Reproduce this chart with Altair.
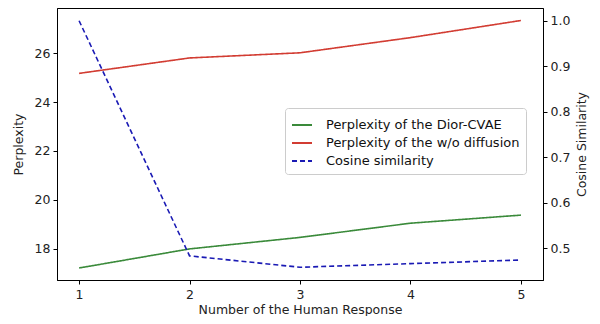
import altair as alt
import pandas as pd

x_vals = [1, 2, 3, 4, 5]
ppl_dior = [17.22, 18.0, 18.47, 19.05, 19.38]
ppl_wo = [25.17, 25.8, 26.01, 26.63, 27.33]
cosine = [1.0, 0.483, 0.458, 0.466, 0.474]

s1 = "Perplexity of the Dior-CVAE"
s2 = "Perplexity of the w/o diffusion"
s3 = "Cosine similarity"
series = [s1, s2, s3]
colors = ["#3a8a3a", "#d23c32", "#1a1ab4"]
dashes = [[1, 0], [1, 0], [5, 3]]

ppl_df = pd.DataFrame(
    {"x": x_vals * 2, "v": ppl_dior + ppl_wo, "s": [s1] * 5 + [s2] * 5}
)
cos_df = pd.DataFrame({"x": x_vals, "v": cosine, "s": [s3] * 5})

font = "DejaVu Sans"

color_enc = alt.Color(
    "s:N",
    scale=alt.Scale(domain=series, range=colors),
    sort=series,
    legend=alt.Legend(
        title=None,
        orient="none",
        legendX=228,
        legendY=100,
        symbolType="stroke",
        symbolStrokeWidth=2,
        symbolSize=400,
        labelFontSize=13,
        labelFont=font,
        labelColor="#111",
        labelLimit=400,
        strokeColor="#cccccc",
        fillColor="white",
        cornerRadius=3,
        padding=6,
        rowPadding=0,
        labelOffset=13,
    ),
)
dash_enc = alt.StrokeDash(
    "s:N", scale=alt.Scale(domain=series, range=dashes), sort=series, legend=None
)

x_enc = alt.X(
    "x:Q",
    scale=alt.Scale(domain=[0.8, 5.2], nice=False, zero=False),
    axis=alt.Axis(
        values=x_vals,
        format="d",
        title="Number of the Human Response",
        grid=False,
        tickSize=4,
        titlePadding=3,
        labelPadding=4,
    ),
)

ppl = (
    alt.Chart(ppl_df)
    .mark_line(strokeWidth=1.6)
    .encode(
        x=x_enc,
        y=alt.Y(
            "v:Q",
            scale=alt.Scale(domain=[16.73, 27.84], nice=False, zero=False),
            axis=alt.Axis(
                values=[18, 20, 22, 24, 26],
                title="Perplexity",
                grid=False,
                orient="left",
                tickSize=4,
                titlePadding=9,
            ),
        ),
        color=color_enc,
        strokeDash=dash_enc,
    )
)

cos = (
    alt.Chart(cos_df)
    .mark_line(strokeWidth=1.6)
    .encode(
        x=x_enc,
        y=alt.Y(
            "v:Q",
            scale=alt.Scale(domain=[0.43, 1.028], nice=False, zero=False),
            axis=alt.Axis(
                values=[0.5, 0.6, 0.7, 0.8, 0.9, 1.0],
                format=".1f",
                title="Cosine Similarity",
                titleAngle=270,
                titleBaseline="top",
                grid=False,
                orient="right",
                tickSize=4,
                titlePadding=6,
            ),
        ),
        color=color_enc,
        strokeDash=dash_enc,
    )
)

chart = (
    alt.layer(ppl, cos)
    .resolve_scale(y="independent")
    .properties(
        width=486,
        height=272,
        padding={"left": 49, "top": 0, "right": 49, "bottom": 36},
        autosize=alt.AutoSizeParams(type="none"),
    )
    .configure_view(stroke="black", strokeWidth=1)
    .configure_axis(
        labelFont=font,
        titleFont=font,
        labelFontSize=12.5,
        titleFontSize=12.5,
        titleFontWeight="normal",
        labelColor="#222",
        titleColor="#222",
        tickColor="black",
        domainColor="black",
        labelPadding=3,
    )
)

chart.save("out.html", embed_options={"renderer": "svg", "actions": False})
